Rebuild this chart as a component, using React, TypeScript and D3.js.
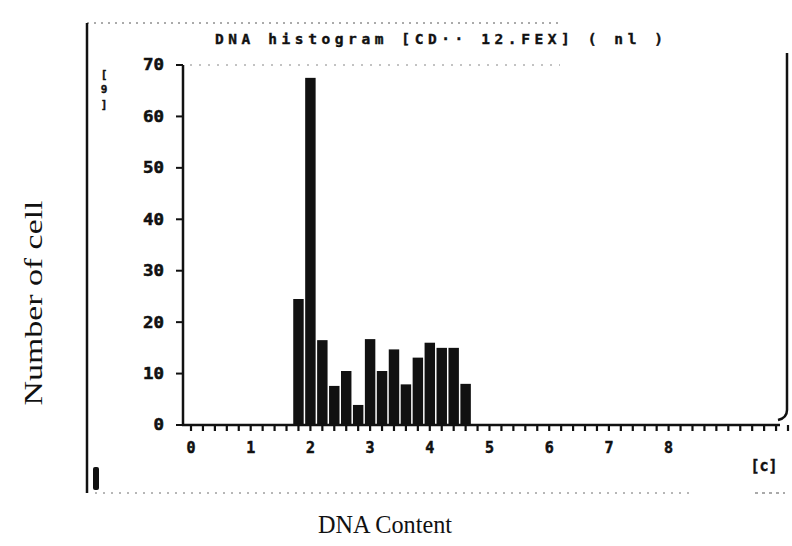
import React from "react";
import * as d3 from "d3";

const binCenters = [1.8, 2.0, 2.2, 2.4, 2.6, 2.8, 3.0, 3.2, 3.4, 3.6, 3.8, 4.0, 4.2, 4.4, 4.6];
const cellCounts = [24.5, 67.5, 16.5, 7.6, 10.5, 3.9, 16.7, 10.5, 14.7, 7.9, 13.1, 16.0, 15.0, 15.0, 8.0];
const xTickLabels = [0, 1, 2, 3, 4, 5, 6, 7, 8];
const yTickValues = [0, 10, 20, 30, 40, 50, 60, 70];
const titleText = "DNA histogram [CD·· 12.FEX] ( nl )";
const xAxisTitle = "DNA Content";
const yAxisTitle = "Number of cell";

export default function App() {
  const W = 792, H = 546;
  const x = d3.scaleLinear().domain([0, 10]).range([191, 788]);
  const y = d3.scaleLinear().domain([0, 70]).range([425, 65]);
  const binW = 0.175;
  const minorTicks = d3.range(0, 10.01, 0.2);
  const mono = "'DejaVu Sans Mono', 'Liberation Mono', monospace";
  const serif = "'Liberation Serif', 'DejaVu Serif', serif";
  const ink = "#111";

  return (
    <svg width={W} height={H} style={{ position: "absolute", left: 0, top: 0, background: "#fff" }}>
      <rect x={0} y={0} width={W} height={H} fill="#fff" />
      {/* outer frame */}
      <line x1={87} y1={23} x2={87} y2={493} stroke={ink} strokeWidth={2.5} />
      <line x1={87} y1={23} x2={560} y2={23} stroke={ink} strokeWidth={1} strokeDasharray="2 5" opacity={0.7} />
      <line x1={95} y1={493} x2={690} y2={493} stroke={ink} strokeWidth={1} strokeDasharray="2 6" opacity={0.6} />
      <line x1={755} y1={493} x2={785} y2={493} stroke={ink} strokeWidth={1.2} strokeDasharray="3 4" opacity={0.7} />
      <path d={`M787,53 L787,410 Q787,418 778,420`} fill="none" stroke={ink} strokeWidth={2.5} />
      <line x1={190} y1={65} x2={560} y2={65} stroke={ink} strokeWidth={1} strokeDasharray="2 7" opacity={0.5} />
      <rect x={93} y={467} width={6} height={23} rx={2} fill={ink} />

      {/* title */}
      <text x={215} y={44} textLength={448} lengthAdjust="spacing" fontFamily={mono} fontWeight="bold" fontSize={14.5} fill={ink} stroke={ink} strokeWidth={0.4}>
        {titleText}
      </text>

      {/* y unit */}
      <g fontFamily={mono} fontWeight="bold" fontSize={11} fill={ink} textAnchor="middle" stroke={ink} strokeWidth={0.4}>
        <text x={104} y={78}>[</text>
        <text x={104} y={93}>9</text>
        <text x={104} y={108}>]</text>
      </g>

      {/* bars */}
      {binCenters.map((c, i) => (
        <rect
          key={i}
          x={x(c - binW / 2)}
          y={y(cellCounts[i])}
          width={x(c + binW / 2) - x(c - binW / 2)}
          height={y(0) - y(cellCounts[i])}
          fill={ink}
        />
      ))}

      {/* y axis */}
      <line x1={183} y1={y(70)} x2={183} y2={y(0) + 1} stroke={ink} strokeWidth={2.5} />
      {yTickValues.map((v) => (
        <g key={v}>
          <line x1={176} y1={y(v)} x2={183} y2={y(v)} stroke={ink} strokeWidth={2} />
          <text
            x={164}
            y={y(v)}
            dy="0.36em"
            textAnchor="end"
            fontFamily={mono}
            fontWeight="bold"
            fontSize={15}
            textLength={String(v).length * 10.5}
            lengthAdjust="spacingAndGlyphs"
            fill={ink}
            stroke={ink}
            strokeWidth={0.5}
          >
            {v}
          </text>
        </g>
      ))}

      {/* x axis */}
      <line x1={182} y1={y(0)} x2={780} y2={y(0)} stroke={ink} strokeWidth={2.5} />
      {minorTicks.map((t, i) => (
        <line key={i} x1={x(t)} y1={y(0)} x2={x(t)} y2={y(0) + 6} stroke={ink} strokeWidth={2.2} />
      ))}
      {xTickLabels.map((v) => (
        <text key={v} x={x(v)} y={453} textAnchor="middle" fontFamily={mono} fontWeight="bold" fontSize={15} fill={ink} stroke={ink} strokeWidth={0.5}>
          {v}
        </text>
      ))}
      <text x={764} y={471} textAnchor="middle" fontFamily={mono} fontWeight="bold" fontSize={15} fill={ink} stroke={ink} strokeWidth={0.4}>
        [c]
      </text>

      {/* axis titles */}
      <text
        x={0}
        y={0}
        transform="translate(42,303) rotate(-90)"
        textAnchor="middle"
        fontFamily={serif}
        fontSize={26}
        textLength={205}
        lengthAdjust="spacingAndGlyphs"
        fill={ink}
      >
        {yAxisTitle}
      </text>
      <text x={385} y={533} textAnchor="middle" fontFamily={serif} fontSize={25} textLength={134} lengthAdjust="spacingAndGlyphs" fill={ink}>
        {xAxisTitle}
      </text>
    </svg>
  );
}
